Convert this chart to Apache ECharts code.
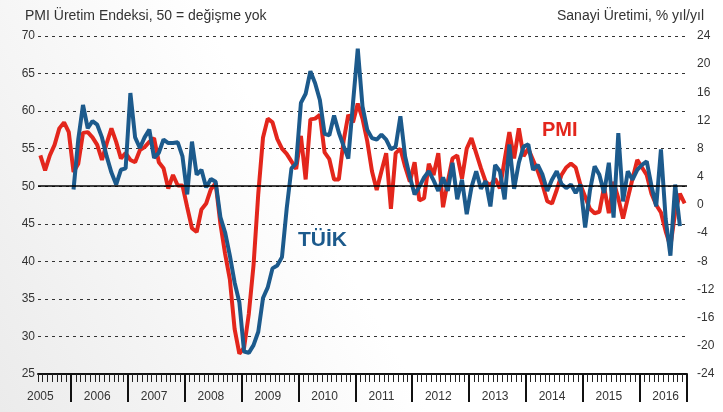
<!DOCTYPE html>
<html>
<head>
<meta charset="utf-8">
<script src="https://cdn.jsdelivr.net/npm/echarts@6/dist/echarts.min.js"></script>
<style>
  html, body { margin: 0; padding: 0; background: #fff; }
  #chart { width: 723px; height: 412px; }
</style>
</head>
<body>
<div id="chart"></div>
<script>
// aylar: 2005 Haziran - 2016 Ekim
const years = ['2005', '2006', '2007', '2008', '2009', '2010', '2011', '2012', '2013', '2014', '2015', '2016'];
const firstMonth = 6;   // 2005 Haziran
const lastMonth = 10;   // 2016 Ekim

// PMI Üretim Endeksi (sol eksen)
const pmi = [
  54.1, 52.1, 54.1, 55.5, 57.7, 58.5, 57.2,
  51.9, 53, 57.1, 57.2, 56.5, 55.5, 53.5, 55.7, 57.7, 55.9, 53.7, 54.4,
  53.5, 53.2, 54.8, 55.2, 55.9, 56.4, 53.2, 52.4, 49.7, 51.5, 50.1, 50.1,
  47.2, 44.4, 43.9, 46.9, 47.7, 49.6, 50.4, 45, 41, 37.6, 31, 27.7,
  28.5, 33, 39.5, 49, 56.5, 59, 58.5, 56.3, 55, 54.3, 53.3, 52.3,
  56.7, 50.9, 58.9, 59, 59.5, 54.5, 53.6, 50.9, 50.9, 56, 59.5, 58.5,
  61, 59, 56, 52, 49.5, 52, 54.4, 47, 54.4, 55, 52.6, 50.6,
  53.2, 48.1, 48.4, 53, 51.5, 54.4, 47.2, 50.6, 53.7, 54.1, 51, 55,
  56.4, 54.4, 52.4, 50.6, 50.1, 51, 49.7, 53.5, 57.2, 53.7, 57.7, 54,
  55, 53.5, 52, 50.2, 48, 47.7, 49.5, 51.5, 52.5, 53, 52.5, 50.2,
  48.6, 47, 46.4, 46.6, 49.9, 46.4, 50.6, 48.4, 45.7, 48.4, 51, 53.5,
  52.5, 51.5, 49, 47.5, 46.5, 44, 42, 46.5, 49, 47.7
];

// TÜİK sanayi üretimi, % yıl/yıl (sağ eksen), 2006 Ocak'tan başlıyor
const tuik = [
  2.2, 9.3, 14.2, 10.9, 11.9, 11.4, 9.6, 6.9, 4.6, 2.9, 5, 5.2,
  15.9, 9.6, 8.1, 9.6, 10.7, 6.7, 7.4, 9.3, 8.8, 8.8, 8.9, 6.9,
  1.5, 9, 4.3, 5, 2.5, 3.7, 3.3, -1.7, -3.9, -7.2, -11, -13.8,
  -20.8, -21, -19.9, -18, -13.2, -11.7, -9, -8.6, -7.4, -0.5, 5.2, 5.9,
  14.5, 15.8, 19, 17.3, 14.9, 10.1, 9.9, 12.7, 10.3, 8.4, 6.6, 14.5,
  22.2, 14, 10.7, 9.5, 9.3, 10, 9.3, 7.9, 8.3, 12.6, 6.9, 4,
  1.5, 2.6, 3.9, 4.8, 3.5, 2, 3.9, 2, 6, 0.8, 3.6, -1.3,
  2.5, 4.8, 2.3, 3.4, -0.2, 5.7, 4.8, 0.8, 8.6, 2.3, 6, 8.3,
  8.6, 5, 5.7, 4.3, 2, 3.6, 4.8, 3, 2.4, 2.9, 1.7, 2.9,
  -3.2, 2, 5.5, 4.3, 1.7, 6, -1.8, 10.2, 0.5, 4.8, 3.6, 5,
  5.7, 6.2, 2.7, -0.2, 7.9, -2, -7.2, 2.9, -3
];

const months = [];
years.forEach((y, k) => {
  const m0 = k === 0 ? firstMonth : 1;
  const m1 = k === years.length - 1 ? lastMonth : 12;
  for (let m = m0; m <= m1; m++) {
    months.push(y + '-' + (m < 10 ? '0' + m : m));
  }
});

const tuikData = months.map(() => null);
const tuikStart = months.indexOf('2006-01');
tuik.forEach((v, i) => { tuikData[tuikStart + i] = v; });

const red = '#e3261c';
const blue = '#1c5a8c';
const textColor = '#333';
const font = 'Liberation Sans, Arial, sans-serif';

const chart = echarts.init(document.getElementById('chart'));
chart.setOption({
  // sol-alt köşeye doğru hafif gri gölge
  backgroundColor: new echarts.graphic.LinearGradient(1, 0, 0, 1, [
    { offset: 0, color: '#ffffff' },
    { offset: 0.55, color: '#ffffff' },
    { offset: 1, color: '#ebebeb' }
  ]),
  animation: false,
  title: [
    {
      text: 'PMI Üretim Endeksi, 50 = değişme yok',
      left: 20, top: 4,
      textStyle: { fontSize: 14, fontWeight: 'normal', color: textColor, fontFamily: font }
    },
    {
      text: 'Sanayi Üretimi, % yıl/yıl',
      right: 14, top: 4,
      textStyle: { fontSize: 14, fontWeight: 'normal', color: textColor, fontFamily: font }
    }
  ],
  grid: { left: 38, right: 36, top: 36, bottom: 38 },
  xAxis: [
    {
      type: 'category',
      data: months,
      boundaryGap: true,
      axisLine: { show: true, onZero: false, lineStyle: { color: '#111', width: 2 } },
      axisTick: { show: true, interval: 0, length: 8, lineStyle: { color: '#222', width: 1 } },
      axisLabel: { show: false }
    },
    {
      type: 'category',
      data: months,
      position: 'bottom',
      boundaryGap: true,
      axisLine: { show: false, onZero: false },
      axisTick: {
        show: true,
        interval: (i, v) => v.slice(5) === '01',
        length: 28,
        lineStyle: { color: '#111', width: 2 }
      },
      axisLabel: {
        interval: (i, v) => i === 0 || v.slice(5) === '06',
        formatter: v => v.slice(0, 4),
        margin: 17,
        color: textColor, fontSize: 12, fontFamily: font
      }
    }
  ],
  yAxis: [
    {
      type: 'value',
      min: 25, max: 70, interval: 5,
      axisLine: { show: false },
      axisTick: { show: false },
      axisLabel: { margin: 3, color: textColor, fontSize: 12, fontFamily: font },
      splitLine: { lineStyle: { color: '#333', type: [3, 4], width: 1 } }
    },
    {
      type: 'value',
      min: -24, max: 24, interval: 4,
      axisLine: { show: false },
      axisTick: { show: false },
      axisLabel: { margin: 10, color: textColor, fontSize: 12, fontFamily: font },
      splitLine: { show: false }
    }
  ],
  series: [
    {
      name: 'PMI',
      type: 'line',
      data: pmi,
      yAxisIndex: 0,
      symbol: 'none',
      lineStyle: { color: red, width: 4 },
      markLine: {
        silent: true,
        symbol: 'none',
        label: { show: false },
        lineStyle: { color: '#000', type: 'solid', width: 1.5 },
        data: [{ yAxis: 50 }]
      }
    },
    {
      name: 'TÜİK',
      type: 'line',
      data: tuikData,
      yAxisIndex: 1,
      symbol: 'none',
      connectNulls: false,
      lineStyle: { color: blue, width: 4 }
    }
  ],
  graphic: [
    {
      type: 'text', left: 298, top: 230,
      style: { text: 'TÜİK', fill: blue, font: 'bold 21px ' + font }
    },
    {
      type: 'text', left: 542, top: 120,
      style: { text: 'PMI', fill: red, font: 'bold 20px ' + font }
    }
  ]
});
</script>
</body>
</html>
